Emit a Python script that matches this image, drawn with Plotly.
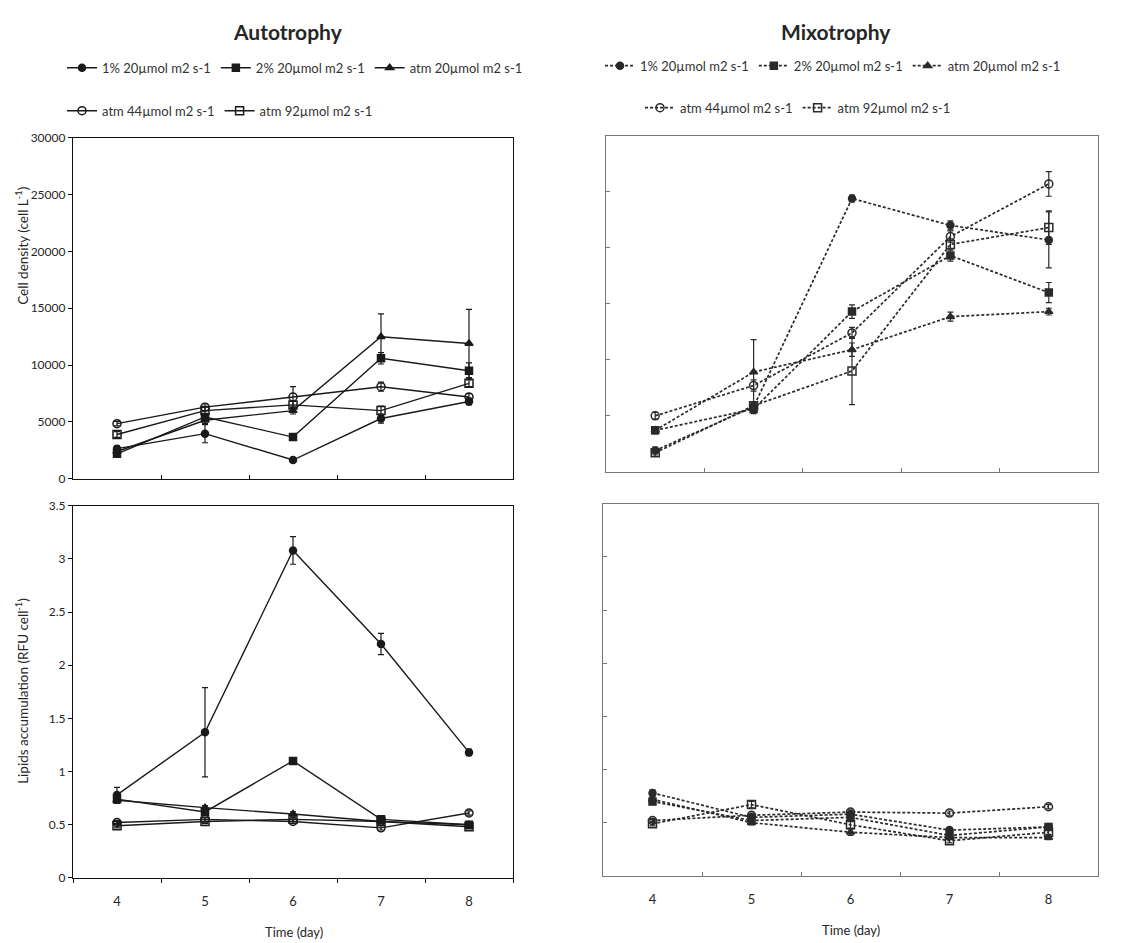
import plotly.graph_objects as go

# ---------------- data ----------------
days = ["4", "5", "6", "7", "8"]
series_names = ["1% 20µmol m2 s-1", "2% 20µmol m2 s-1", "atm 20µmol m2 s-1",
                "atm 44µmol m2 s-1", "atm 92µmol m2 s-1"]

# Autotrophy - cell density (cell L-1)
auto_cell_1pct = [2650, 3970, 1650, 5300, 6800]
auto_cell_1pct_err = [250, 800, 200, 400, 300]
auto_cell_2pct = [2200, 5440, 3670, 10600, 9500]
auto_cell_2pct_err = [250, 300, 300, 500, 700]
auto_cell_atm20 = [2400, 5150, 6000, 12500, 11900]
auto_cell_atm20_err = [250, 300, 300, 2000, 3000]
auto_cell_atm44 = [4850, 6300, 7200, 8100, 7200]
auto_cell_atm44_err = [200, 300, 900, 400, 300]
auto_cell_atm92 = [3900, 6000, 6500, 6000, 8400]
auto_cell_atm92_err = [250, 300, 300, 400, 300]

# Mixotrophy - cell density (cell L-1)
mixo_cell_1pct = [1900, 5800, 24400, 22000, 20700]
mixo_cell_1pct_err = [300, 300, 300, 400, 2500]
mixo_cell_2pct = [3700, 5600, 14300, 19300, 16000]
mixo_cell_2pct_err = [300, 400, 600, 500, 900]
mixo_cell_atm20 = [3700, 8900, 10900, 13850, 14300]
mixo_cell_atm20_err = [300, 2900, 600, 400, 300]
mixo_cell_atm44 = [5000, 7700, 12400, 21000, 25700]
mixo_cell_atm44_err = [300, 500, 500, 500, 1100]
mixo_cell_atm92 = [1700, 5900, 9000, 20300, 21800]
mixo_cell_atm92_err = [300, 300, 3000, 500, 1500]

# Autotrophy - lipids accumulation (RFU cell-1)
auto_lip_1pct = [0.78, 1.37, 3.08, 2.20, 1.18]
auto_lip_1pct_err = [0.07, 0.42, 0.13, 0.10, 0.03]
auto_lip_2pct = [0.74, 0.62, 1.10, 0.55, 0.50]
auto_lip_2pct_err = [0.03, 0.02, 0.02, 0.02, 0.02]
auto_lip_atm20 = [0.73, 0.66, 0.60, 0.53, 0.50]
auto_lip_atm20_err = [0.03, 0.02, 0.02, 0.02, 0.02]
auto_lip_atm44 = [0.52, 0.55, 0.53, 0.47, 0.61]
auto_lip_atm44_err = [0.02, 0.02, 0.02, 0.02, 0.02]
auto_lip_atm92 = [0.49, 0.53, 0.55, 0.53, 0.48]
auto_lip_atm92_err = [0.02, 0.02, 0.02, 0.02, 0.02]

# Mixotrophy - lipids accumulation (RFU cell-1)
mixo_lip_1pct = [0.78, 0.55, 0.58, 0.43, 0.46]
mixo_lip_1pct_err = [0.03, 0.03, 0.03, 0.02, 0.03]
mixo_lip_2pct = [0.70, 0.52, 0.55, 0.38, 0.46]
mixo_lip_2pct_err = [0.03, 0.03, 0.03, 0.02, 0.03]
mixo_lip_atm20 = [0.72, 0.50, 0.41, 0.36, 0.36]
mixo_lip_atm20_err = [0.03, 0.02, 0.03, 0.02, 0.02]
mixo_lip_atm44 = [0.52, 0.57, 0.60, 0.59, 0.65]
mixo_lip_atm44_err = [0.02, 0.02, 0.02, 0.02, 0.02]
mixo_lip_atm92 = [0.49, 0.67, 0.48, 0.33, 0.41]
mixo_lip_atm92_err = [0.02, 0.03, 0.03, 0.02, 0.02]

auto_cell = [(auto_cell_1pct, auto_cell_1pct_err), (auto_cell_2pct, auto_cell_2pct_err),
             (auto_cell_atm20, auto_cell_atm20_err), (auto_cell_atm44, auto_cell_atm44_err),
             (auto_cell_atm92, auto_cell_atm92_err)]
mixo_cell = [(mixo_cell_1pct, mixo_cell_1pct_err), (mixo_cell_2pct, mixo_cell_2pct_err),
             (mixo_cell_atm20, mixo_cell_atm20_err), (mixo_cell_atm44, mixo_cell_atm44_err),
             (mixo_cell_atm92, mixo_cell_atm92_err)]
auto_lip = [(auto_lip_1pct, auto_lip_1pct_err), (auto_lip_2pct, auto_lip_2pct_err),
            (auto_lip_atm20, auto_lip_atm20_err), (auto_lip_atm44, auto_lip_atm44_err),
            (auto_lip_atm92, auto_lip_atm92_err)]
mixo_lip = [(mixo_lip_1pct, mixo_lip_1pct_err), (mixo_lip_2pct, mixo_lip_2pct_err),
            (mixo_lip_atm20, mixo_lip_atm20_err), (mixo_lip_atm44, mixo_lip_atm44_err),
            (mixo_lip_atm92, mixo_lip_atm92_err)]

# ---------------- styles ----------------
symbols = ["circle", "square", "triangle-up", "circle-open", "square-open"]
sizes = [7, 7, 7, 8, 8]
# empirical mapping between target picture pixels and figure pixels
OFF_X = 8
Y_SCALE, Y_OFF = 0.984, 15.5
W, H = 1120, 943
FONT = "Lato, 'Open Sans', sans-serif"
TXT = "#262626"


def px(x):
    return (x - OFF_X) / W


def py(y):
    return 1 - (y / Y_SCALE - Y_OFF) / H


fig = go.Figure()


def add_series(data, xa, ya, dash, color, legend_ids, show):
    for i, (vals, err) in enumerate(data):
        fig.add_trace(go.Scatter(
            x=days, y=vals, xaxis=xa, yaxis=ya,
            mode="lines+markers", name=series_names[i],
            line=dict(color=color, width=1.4 if dash == "solid" else 1.7, dash=dash),
            marker=dict(symbol=symbols[i], size=sizes[i], color=color,
                        line=dict(color=color, width=1.5)),
            error_y=dict(type="data", array=err, visible=True, color=color,
                         thickness=1.2, width=3),
            showlegend=show,
            legend=legend_ids[0] if i < 3 else legend_ids[1],
        ))


add_series(auto_cell, "x", "y", "solid", "#1a1a1a", ("legend", "legend2"), True)
add_series(mixo_cell, "x2", "y2", "3px,2px", "#2a2a2a", ("legend3", "legend4"), True)
add_series(auto_lip, "x3", "y3", "solid", "#1a1a1a", ("legend", "legend2"), False)
add_series(mixo_lip, "x4", "y4", "3px,2px", "#2a2a2a", ("legend3", "legend4"), False)


def xdom(a, b):
    return [px(a), px(b)]


def ydom(top, bottom):
    return [py(bottom), py(top)]


tickfont = dict(family=FONT, size=13, color=TXT)


def xaxis(dom, anchor, labels, linecolor, ticks):
    return dict(domain=dom, anchor=anchor, type="category", categoryorder="array",
                categoryarray=days, range=[-0.5, 4.5], tickson="boundaries",
                ticks=ticks, ticklen=4, tickcolor=linecolor,
                showline=True, linecolor=linecolor, linewidth=1.3, mirror=True,
                showgrid=False, zeroline=False, showticklabels=labels,
                ticklabelstandoff=11,
                tickfont=tickfont, fixedrange=True)


def yaxis(dom, anchor, rng, dtick, labels, linecolor, ticks):
    return dict(domain=dom, anchor=anchor, range=rng, dtick=dtick, tick0=0,
                tickformat="d" if dtick >= 1 else "",
                ticks=ticks, ticklen=4, tickcolor=linecolor,
                showline=True, linecolor=linecolor, linewidth=1.3, mirror=True,
                showgrid=False, zeroline=False, showticklabels=labels,
                tickfont=dict(family=FONT, size=12, color=TXT), fixedrange=True)


legend_common = dict(orientation="h", xanchor="left", yanchor="middle",
                     font=dict(family=FONT, size=13, color="#333"),
                     bgcolor="rgba(0,0,0,0)", itemwidth=30)


def ann(text, x, y, size, angle=0):
    return dict(text=text, x=px(x), y=py(y), xref="paper", yref="paper",
                xanchor="center", yanchor="middle", showarrow=False,
                textangle=angle, font=dict(family=FONT, size=size, color=TXT))


fig.update_layout(
    width=W, height=H,
    margin=dict(l=0, r=0, t=0, b=0),
    paper_bgcolor="white", plot_bgcolor="white",
    font=dict(family=FONT, color=TXT),
    xaxis=xaxis(xdom(73, 513), "y", False, "#111", "inside"),
    yaxis=yaxis(ydom(137, 478), "x", [0, 30000], 5000, True, "#111", "outside"),
    xaxis2=xaxis(xdom(606, 1098), "y2", False, "#777", "inside"),
    yaxis2=yaxis(ydom(135, 471), "x2", [0, 30000], 5000, False, "#777", "inside"),
    xaxis3=xaxis(xdom(73, 513), "y3", True, "#111", "outside"),
    yaxis3=yaxis(ydom(505, 877), "x3", [0, 3.5], 0.5, True, "#111", "outside"),
    xaxis4=xaxis(xdom(603, 1098), "y4", True, "#777", "inside"),
    yaxis4=yaxis(ydom(503, 875), "x4", [0, 3.5], 0.5, False, "#777", "inside"),
    legend=dict(x=px(62), y=py(67), **legend_common),
    legend2=dict(x=px(62), y=py(110), **legend_common),
    legend3=dict(x=px(600), y=py(65), **legend_common),
    legend4=dict(x=px(640), y=py(107), **legend_common),
    annotations=[
        ann("<b>Autotrophy</b>", 288, 31, 21),
        ann("<b>Mixotrophy</b>", 836, 31, 21),
        ann("Cell density (cell L<sup>-1</sup>)", 22, 245, 13.5, -90),
        ann("Lipids accumulation (RFU cell<sup>-1</sup>)", 22, 690, 13.5, -90),
        ann("Time (day)", 294, 931, 13),
        ann("Time (day)", 851, 929, 13),
    ],
)

fig.write_html("out.html")
